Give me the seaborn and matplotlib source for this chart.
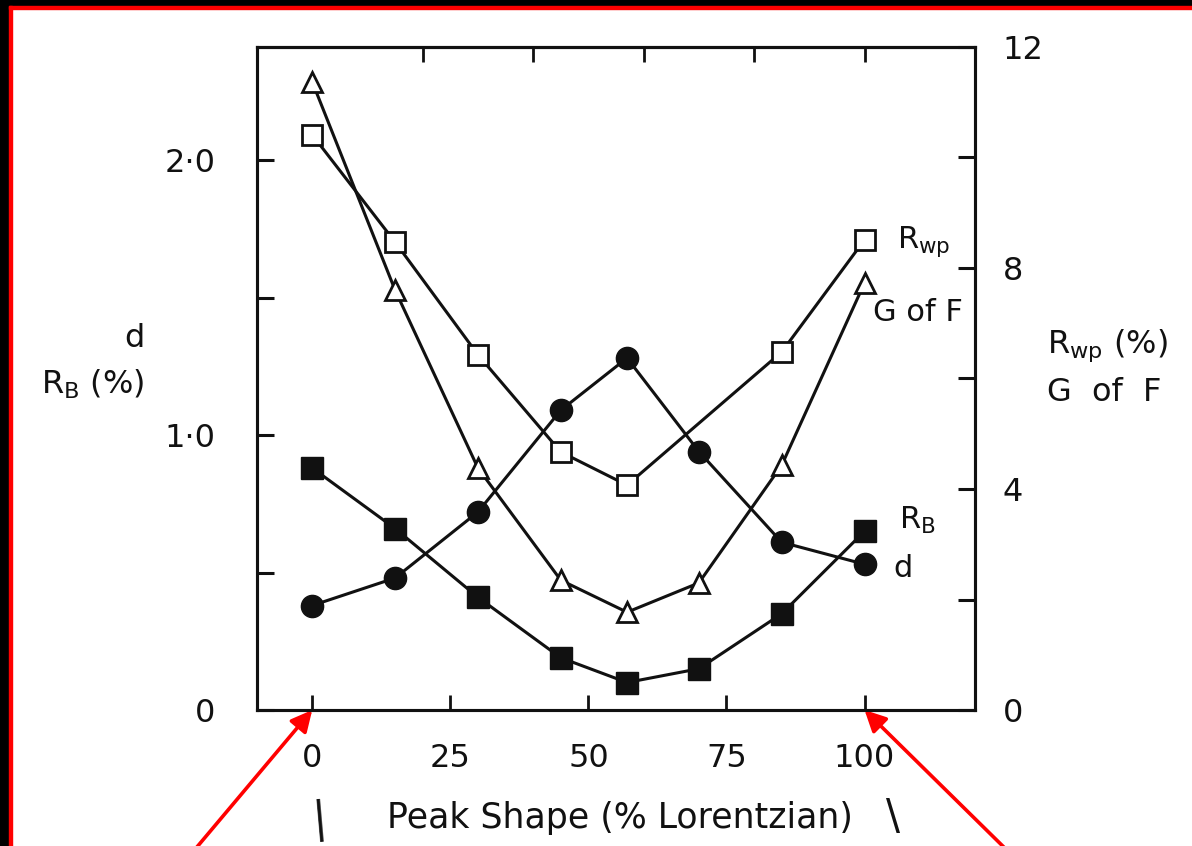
import matplotlib
matplotlib.use("Agg")
import matplotlib.pyplot as plt
import seaborn as sns
from matplotlib.patches import Rectangle

# ---------------- data ----------------
shape_pct = [0, 15, 30, 45, 57, 70, 85, 100]          # % Lorentzian
d_vals = [0.38, 0.48, 0.72, 1.09, 1.28, 0.94, 0.61, 0.53]   # left axis
rb_vals = [0.88, 0.66, 0.41, 0.19, 0.10, 0.15, 0.35, 0.65]  # left axis (%)

shape_rwp = [0, 15, 30, 45, 57, 85, 100]
rwp_vals = [10.41, 8.47, 6.43, 4.67, 4.07, 6.48, 8.51]      # right axis (%)
gof_vals = [11.37, 7.60, 4.38, 2.35, 1.77, 2.30, 4.43, 7.73]  # right axis

x_ticks = [0, 25, 50, 75, 100]
x_labels = ["0", "25", "50", "75", "100"]
x_top_ticks = [20, 40, 60, 80, 100]
left_ticks = [0, 0.5, 1.0, 1.5, 2.0]
left_labels = ["0", "", "1·0", "", "2·0"]
right_ticks = [0, 2, 4, 6, 8, 10, 12]
right_labels = ["0", "", "4", "", "8", "", "12"]

# ---------------- style ----------------
sns.set_theme(style="ticks")
plt.rcParams["font.family"] = ["DejaVu Sans"]
plt.rcParams["mathtext.default"] = "regular"

ink = "#111111"
W, H = 1192, 846
fig = plt.figure(figsize=(W / 100, H / 100), dpi=100, facecolor="white")
ax = fig.add_axes([257 / W, 136 / H, 718 / W, 663 / H])
ax2 = ax.twinx()

lw = 2.2
ms = 15

# left-axis series
sns.lineplot(x=shape_pct, y=rb_vals, ax=ax, color=ink, linewidth=lw,
             marker="s", markersize=ms + 0.5, markerfacecolor=ink,
             markeredgecolor=ink, markeredgewidth=1, estimator=None,
             sort=False, legend=False)
sns.lineplot(x=shape_pct, y=d_vals, ax=ax, color=ink, linewidth=lw,
             marker="o", markersize=ms + 1, markerfacecolor=ink,
             markeredgecolor=ink, markeredgewidth=1, estimator=None,
             sort=False, legend=False)

# right-axis series
sns.lineplot(x=shape_rwp, y=rwp_vals, ax=ax2, color=ink, linewidth=lw,
             marker="s", markersize=ms, markerfacecolor="white",
             markeredgecolor=ink, markeredgewidth=2, estimator=None,
             sort=False, legend=False)
sns.lineplot(x=shape_pct, y=gof_vals, ax=ax2, color=ink, linewidth=lw,
             marker="^", markersize=ms, markerfacecolor="white",
             markeredgecolor=ink, markeredgewidth=2, estimator=None,
             sort=False, legend=False)

# ---------------- axes ----------------
ax.set_xlim(-10, 120)
ax.set_ylim(0, 663 / 275)
ax2.set_ylim(0, 12)

ax.set_xticks(x_ticks)
ax.set_xticklabels(x_labels)
ax.set_yticks(left_ticks)
ax.set_yticklabels(left_labels)
ax2.set_yticks(right_ticks)
ax2.set_yticklabels(right_labels)

ax.tick_params(axis="x", direction="in", length=11, width=2, pad=24,
               labelsize=23, colors=ink)
ax.tick_params(axis="y", direction="in", length=12, width=2.2, pad=30,
               labelsize=23, colors=ink)
ax2.tick_params(axis="y", direction="in", length=12, width=2.2, pad=20,
                labelsize=23, colors=ink)

sec = ax.secondary_xaxis("top")
sec.set_xticks(x_top_ticks)
sec.set_xticklabels([])
sec.tick_params(direction="in", length=11, width=2, colors=ink)
for sp in sec.spines.values():
    sp.set_linewidth(2.2)
    sp.set_color(ink)

for a in (ax, ax2):
    for sp in a.spines.values():
        sp.set_linewidth(2.2)
        sp.set_color(ink)
        sp.set_visible(True)

ax.grid(False)
ax2.grid(False)

# axis labels
ax.set_xlabel("Peak Shape (% Lorentzian)", fontsize=25, color=ink)
ax.xaxis.set_label_coords((620 - 257) / 718, (710 - 818) / 663)
ax.xaxis.label.set_verticalalignment("center")

ax.set_ylabel("d\nR$_B$ (%)", rotation=0, fontsize=23, color=ink,
              ha="right", va="center", multialignment="right",
              linespacing=1.55)
ax.yaxis.set_label_coords((145 - 257) / 718, (710 - 362) / 663)

ax2.set_ylabel("R$_{wp}$ (%)\nG  of  F", rotation=0, fontsize=23, color=ink,
               ha="left", va="center", multialignment="left",
               linespacing=1.55)
ax2.yaxis.set_label_coords((1047 - 257) / 718, (710 - 368) / 663)

# in-plot series labels
ax2.text(105.8, 8.47, "R$_{wp}$", fontsize=22, color=ink, ha="left", va="center")
ax2.text(101.6, 7.20, "G of F", fontsize=22, color=ink, ha="left", va="center")
ax.text(106.3, 0.69, "R$_B$", fontsize=22, color=ink, ha="left", va="center")
ax.text(105.2, 0.515, "d", fontsize=22, color=ink, ha="left", va="center")

# stray strokes below the axis label (part of the scanned figure)
fig.text(320 / W, 1 - 798 / H, "|", fontsize=30, color=ink, ha="center",
         va="top", rotation=5)
fig.text(893 / W, 1 - 796 / H, "\\", fontsize=30, color=ink, ha="center",
         va="top")

# red annotation arrows pointing at 0 and 100 on the x axis
arrow_kw = dict(arrowstyle="-|>", color="red", lw=2.6, mutation_scale=32,
                shrinkA=0, shrinkB=0)
ax.annotate("", xy=(0, 0), xycoords="data", xytext=(181, -20),
            textcoords="figure pixels", arrowprops=arrow_kw,
            annotation_clip=False)
ax.annotate("", xy=(100, 0), xycoords="data", xytext=(1023, -20),
            textcoords="figure pixels", arrowprops=arrow_kw,
            annotation_clip=False)

# black / red frame at top-left edges of the screenshot
fig.patches.append(Rectangle((0, 0), 9 / W, 1, transform=fig.transFigure,
                             color="black", zorder=10))
fig.patches.append(Rectangle((0, 1 - 6 / H), 1, 6 / H, transform=fig.transFigure,
                             color="black", zorder=10))
fig.patches.append(Rectangle((9 / W, 0), 3 / W, 1 - 6 / H, transform=fig.transFigure,
                             color="red", zorder=10))
fig.patches.append(Rectangle((9 / W, 1 - 9 / H), 1, 3 / H, transform=fig.transFigure,
                             color="red", zorder=10))

fig.savefig("out.png", dpi=100, facecolor="white")
